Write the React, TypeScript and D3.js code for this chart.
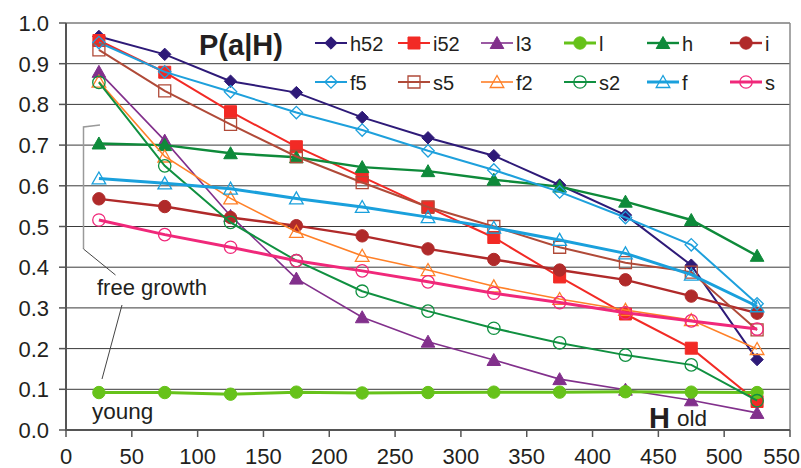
import React from "react";
import * as d3 from "d3";

// H bins (mid-points)
const hValues = [25, 75, 125, 175, 225, 275, 325, 375, 425, 475, 525];

// P(a|H) per series
const h52 = [0.967, 0.923, 0.857, 0.829, 0.768, 0.718, 0.674, 0.602, 0.528, 0.405, 0.173];
const i52 = [0.957, 0.879, 0.782, 0.696, 0.622, 0.547, 0.473, 0.376, 0.285, 0.201, 0.070];
const l3 = [0.880, 0.711, 0.526, 0.372, 0.277, 0.217, 0.172, 0.125, 0.099, 0.073, 0.042];
const l = [0.092, 0.092, 0.088, 0.093, 0.091, 0.092, 0.093, 0.093, 0.094, 0.093, 0.092];
const h = [0.704, 0.700, 0.680, 0.670, 0.646, 0.636, 0.615, 0.598, 0.561, 0.516, 0.428];
const i = [0.568, 0.549, 0.522, 0.502, 0.477, 0.445, 0.419, 0.393, 0.369, 0.329, 0.287];
const f5 = [0.952, 0.880, 0.831, 0.780, 0.737, 0.686, 0.639, 0.585, 0.522, 0.455, 0.310];
const s5 = [0.934, 0.833, 0.751, 0.672, 0.608, 0.548, 0.500, 0.449, 0.411, 0.388, 0.246];
const f2 = [0.856, 0.672, 0.569, 0.487, 0.428, 0.393, 0.353, 0.322, 0.295, 0.270, 0.199];
const s2 = [0.854, 0.649, 0.510, 0.416, 0.341, 0.292, 0.250, 0.214, 0.184, 0.160, 0.072];
const f = [0.618, 0.606, 0.593, 0.569, 0.548, 0.523, 0.497, 0.467, 0.434, 0.382, 0.304];
const s = [0.516, 0.480, 0.449, 0.416, 0.391, 0.364, 0.336, 0.313, 0.288, 0.268, 0.248];

const xTicks = [0, 50, 100, 150, 200, 250, 300, 350, 400, 450, 500, 550];
const yTicks = [0, 0.1, 0.2, 0.3, 0.4, 0.5, 0.6, 0.7, 0.8, 0.9, 1.0];

type Shape = "diamond" | "square" | "triangle" | "circle";

interface Series {
  name: string;
  values: number[];
  color: string;
  shape: Shape;
  filled: boolean;
  width: number;
}

const series: Series[] = [
  { name: "h52", values: h52, color: "#2e1a78", shape: "diamond", filled: true, width: 2 },
  { name: "i52", values: i52, color: "#f22a25", shape: "square", filled: true, width: 2 },
  { name: "l3", values: l3, color: "#82308c", shape: "triangle", filled: true, width: 1.6 },
  { name: "l", values: l, color: "#66c21a", shape: "circle", filled: true, width: 3 },
  { name: "h", values: h, color: "#0e8a3a", shape: "triangle", filled: true, width: 2.4 },
  { name: "i", values: i, color: "#b02a2a", shape: "circle", filled: true, width: 2.4 },
  { name: "f5", values: f5, color: "#1ea0dc", shape: "diamond", filled: false, width: 2 },
  { name: "s5", values: s5, color: "#b04a38", shape: "square", filled: false, width: 2 },
  { name: "f2", values: f2, color: "#ff8028", shape: "triangle", filled: false, width: 1.6 },
  { name: "s2", values: s2, color: "#109040", shape: "circle", filled: false, width: 2 },
  { name: "f", values: f, color: "#1aa0dc", shape: "triangle", filled: false, width: 3 },
  { name: "s", values: s, color: "#f0287a", shape: "circle", filled: false, width: 3 },
];

const W = 801;
const H = 468;
const FONT = "'Liberation Sans', Arial, Helvetica, sans-serif";
const TEXT = "#231f20";

const x = d3.scaleLinear().domain([0, 550]).range([66, 790]);
const y = d3.scaleLinear().domain([0, 1]).range([430, 23]);

function markerPath(shape: Shape): string {
  switch (shape) {
    case "diamond":
      return "M0,-6.2L6.2,0L0,6.2L-6.2,0Z";
    case "square":
      return "M-6,-6H6V6H-6Z";
    case "triangle":
      return "M0,-6.5L6.8,5.5L-6.8,5.5Z";
    default:
      return d3.symbol().type(d3.symbolCircle).size(Math.PI * 6.2 * 6.2)() as string;
  }
}

function Marker({ s, cx, cy }: { s: Series; cx: number; cy: number }) {
  return (
    <path
      d={markerPath(s.shape)}
      transform={`translate(${cx},${cy})`}
      fill={s.filled ? s.color : "none"}
      stroke={s.color}
      strokeWidth={s.filled ? 1 : 1.3}
    />
  );
}

export default function App() {
  const line = d3
    .line<number>()
    .x((_, k) => x(hValues[k]))
    .y((v) => y(v));

  const legendCols = [315, 398, 481, 564, 647, 730];
  const legendRows = [43, 82];
  const lastTick = xTicks[xTicks.length - 1];

  return (
    <svg
      width={W}
      height={H}
      style={{ position: "absolute", left: 0, top: 0, background: "#fff" }}
      fontFamily={FONT}
    >
      {/* horizontal gridlines */}
      {yTicks
        .filter((t) => t > 0)
        .map((t) => (
          <line key={t} x1={x(0)} x2={x(550)} y1={y(t)} y2={y(t)} stroke="#3a3a3a" strokeWidth={1} />
        ))}
      {/* right border */}
      <line x1={x(550)} x2={x(550)} y1={y(1)} y2={y(0)} stroke="#8a8a8a" strokeWidth={1.5} />

      {/* axes */}
      <line x1={x(0)} x2={x(0)} y1={y(1)} y2={y(0) + 1} stroke="#555" strokeWidth={2} />
      <line x1={x(0) - 1} x2={x(550)} y1={y(0)} y2={y(0)} stroke="#555" strokeWidth={2} />
      {yTicks.map((t) => (
        <g key={t}>
          <line x1={x(0) - 7} x2={x(0)} y1={y(t)} y2={y(t)} stroke="#555" strokeWidth={1.5} />
          <text x={49} y={y(t) + 8} textAnchor="end" fontSize={22} fill={TEXT}>
            {d3.format(".1f")(t)}
          </text>
        </g>
      ))}
      {xTicks.map((t) => (
        <g key={t}>
          <line x1={x(t)} x2={x(t)} y1={y(0)} y2={y(0) + 7} stroke="#555" strokeWidth={1.5} />
          <text
            x={t === lastTick ? 800 : x(t)}
            y={464}
            textAnchor={t === lastTick ? "end" : "middle"}
            fontSize={22}
            fill={TEXT}
          >
            {t}
          </text>
        </g>
      ))}

      {/* annotations */}
      <polyline points="100,125 83.5,127 83.5,249" fill="none" stroke="#9a9a9a" strokeWidth={1.5} />
      <line x1={83.5} y1={249} x2={115.5} y2={275} stroke="#444" strokeWidth={1} />
      <line x1={122} y1={305} x2={102} y2={379} stroke="#444" strokeWidth={1} />
      <text x={97} y={295} fontSize={22} fill={TEXT}>
        free growth
      </text>
      <text x={92} y={419} fontSize={22.5} fill={TEXT}>
        young
      </text>
      <text x={649} y={428} fontSize={29} fontWeight="bold" fill={TEXT}>
        H
      </text>
      <text x={677} y={426} fontSize={22.5} fill={TEXT}>
        old
      </text>
      <text x={199} y={55} fontSize={29} fontWeight="bold" fill={TEXT}>
        P(a|H)
      </text>

      {/* series */}
      {series.map((sr) => (
        <g key={sr.name}>
          <path d={line(sr.values) as string} fill="none" stroke={sr.color} strokeWidth={sr.width} />
          {sr.values.map((v, k) => (
            <Marker key={k} s={sr} cx={x(hValues[k])} cy={y(v)} />
          ))}
        </g>
      ))}

      {/* legend */}
      {series.map((sr, k) => {
        const x0 = legendCols[k % 6];
        const yy = legendRows[Math.floor(k / 6)];
        return (
          <g key={sr.name}>
            <line x1={x0} x2={x0 + 32} y1={yy} y2={yy} stroke={sr.color} strokeWidth={sr.width} />
            <Marker s={sr} cx={x0 + 16} cy={yy} />
            <text x={x0 + 35} y={yy + 7.5} fontSize={20} fill={TEXT}>
              {sr.name}
            </text>
          </g>
        );
      })}
    </svg>
  );
}
